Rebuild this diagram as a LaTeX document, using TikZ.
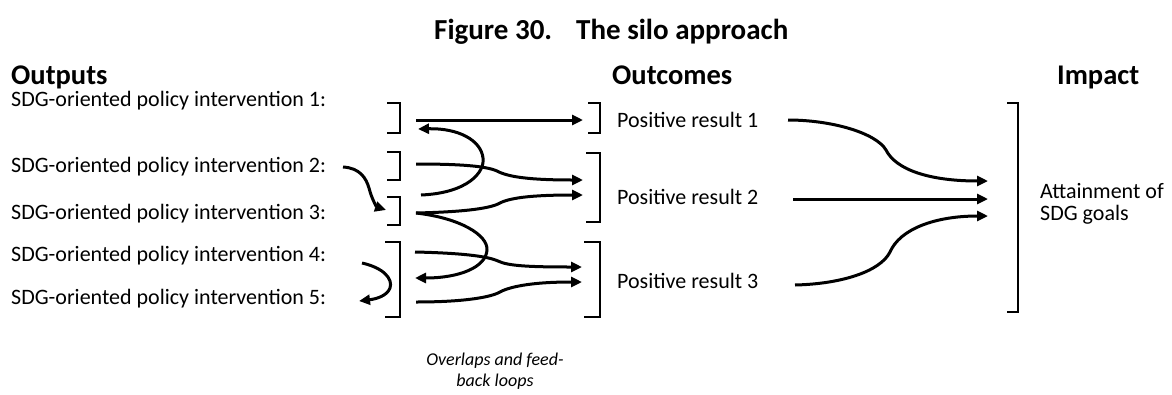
\documentclass[tikz,border=0pt]{standalone}
\usepackage{fontspec}
\setmainfont{Carlito}
\usetikzlibrary{arrows.meta}
\begin{document}
\begin{tikzpicture}[x=1pt,y=-1pt,
  brk/.style={line width=2.2pt, line join=miter},
  conn/.style={line width=3pt, -{Triangle[length=11pt,width=10pt]}},
  lbl/.style={anchor=base west, inner sep=0pt, font=\fontsize{22}{24}\selectfont},
  res/.style={anchor=base west, inner sep=0pt, font=\fontsize{22}{22}\selectfont},
  head/.style={anchor=base west, inner sep=0pt, font=\bfseries\fontsize{28.5}{30}\selectfont},
  pics/rbr/.style args={#1/#2}{code={\draw[brk] (-#1,-#2) -- (0,-#2) -- (0,#2) -- (-#1,#2);}}
]
\useasboundingbox (0,0) rectangle (1172,394);

% title and headings
\node[anchor=base west, inner sep=0pt, font=\bfseries\fontsize{29}{30}\selectfont] (title) at (434,39) {Figure 30.\hspace{24pt}The silo approach};
\node[head] (hout) at (11,84) {Outputs};
\node[head] (hoc) at (612,84) {Outcomes};
\node[head] (himp) at (1057,84) {Impact};

% output labels
\node[lbl] (l1) at (11,106.5) {SDG-oriented policy intervention 1:};
\node[lbl] (l2) at (11,172) {SDG-oriented policy intervention 2:};
\node[lbl] (l3) at (11,219) {SDG-oriented policy intervention 3:};
\node[lbl] (l4) at (11,261) {SDG-oriented policy intervention 4:};
\node[lbl] (l5) at (11,304) {SDG-oriented policy intervention 5:};

% outcome labels
\node[res] (r1) at (617,127) {Positive result 1};
\node[res] (r2) at (617,204) {Positive result 2};
\node[res] (r3) at (617,288) {Positive result 3};
\node[res, align=left, anchor=west, font=\fontsize{22}{22}\selectfont] (imp) at (1040,204) {Attainment of\\SDG goals};

% note
\node[inner sep=0pt, align=center, font=\itshape\fontsize{18}{21}\selectfont] (note) at (495,371) {Overlaps and feed-\\back loops};

% brackets
\pic at (400,118) {rbr=13/15};
\pic at (400,166) {rbr=13/14};
\pic at (400,211) {rbr=13/14};
\pic at (400,279.5) {rbr=15/37.5};
\pic at (600,118) {rbr=12/15};
\pic at (600,187.5) {rbr=14/34.5};
\pic at (600,279.5) {rbr=16/37.5};
\pic at (1018,207.5) {rbr=11/104.5};

% connector end points
\coordinate (s1) at (416,120);  \coordinate (e1) at (583,120);
\coordinate (s2) at (416,164);  \coordinate (e2) at (583,180);
\coordinate (s3) at (416,213);  \coordinate (e3) at (583,195);
\coordinate (s4) at (415,252);  \coordinate (e4) at (582,267);
\coordinate (s5) at (416,302);  \coordinate (e5) at (582,282);
\coordinate (f1s) at (421,195); \coordinate (f1e) at (418,129);
\coordinate (f2e) at (415,278);
\coordinate (f3s) at (362,263); \coordinate (f3e) at (359,301);
\coordinate (ls) at (343,167);  \coordinate (le) at (386,210);
\coordinate (o1) at (788,120);  \coordinate (o2) at (793,199); \coordinate (o3) at (795,285);
\coordinate (g1) at (988,181);  \coordinate (g2) at (988,199); \coordinate (g3) at (988,216);

% outputs -> outcomes
\draw[conn] (s1) -- (e1);
\draw[conn] (s2) .. controls (460,164) and (486,166) .. (497,171) .. controls (508,177) and (530,180) .. (e2);
\draw[conn] (s3) .. controls (460,212) and (487,209) .. (498,204) .. controls (508,198) and (530,195) .. (e3);
\draw[conn] (s4) .. controls (460,253) and (487,256) .. (498,261) .. controls (508,266) and (530,267) .. (e4);
\draw[conn] (s5) .. controls (460,302) and (487,298) .. (498,293) .. controls (508,287) and (530,282) .. (e5);

% feedback loops
\draw[conn] (f1s) .. controls (468,193) and (485,172) .. (483,158) .. controls (481,140) and (458,128) .. (f1e);
\draw[conn] (s3) .. controls (460,218) and (488,235) .. (487,250) .. controls (486,267) and (460,278) .. (f2e);
\draw[conn] (f3s) .. controls (384,268) and (393,279) .. (390,288) .. controls (387,296) and (376,299) .. (f3e);
\draw[conn] (ls) .. controls (360,168) and (366,178) .. (369,188) .. controls (372,200) and (377,207) .. (le);

% outcomes -> impact
\draw[conn] (o1) .. controls (832,120) and (876,133) .. (886,150) .. controls (896,170) and (930,181) .. (g1);
\draw[conn] (o2) -- (g2);
\draw[conn] (o3) .. controls (840,284) and (880,272) .. (890,252) .. controls (900,229) and (935,216) .. (g3);
\end{tikzpicture}
\end{document}
